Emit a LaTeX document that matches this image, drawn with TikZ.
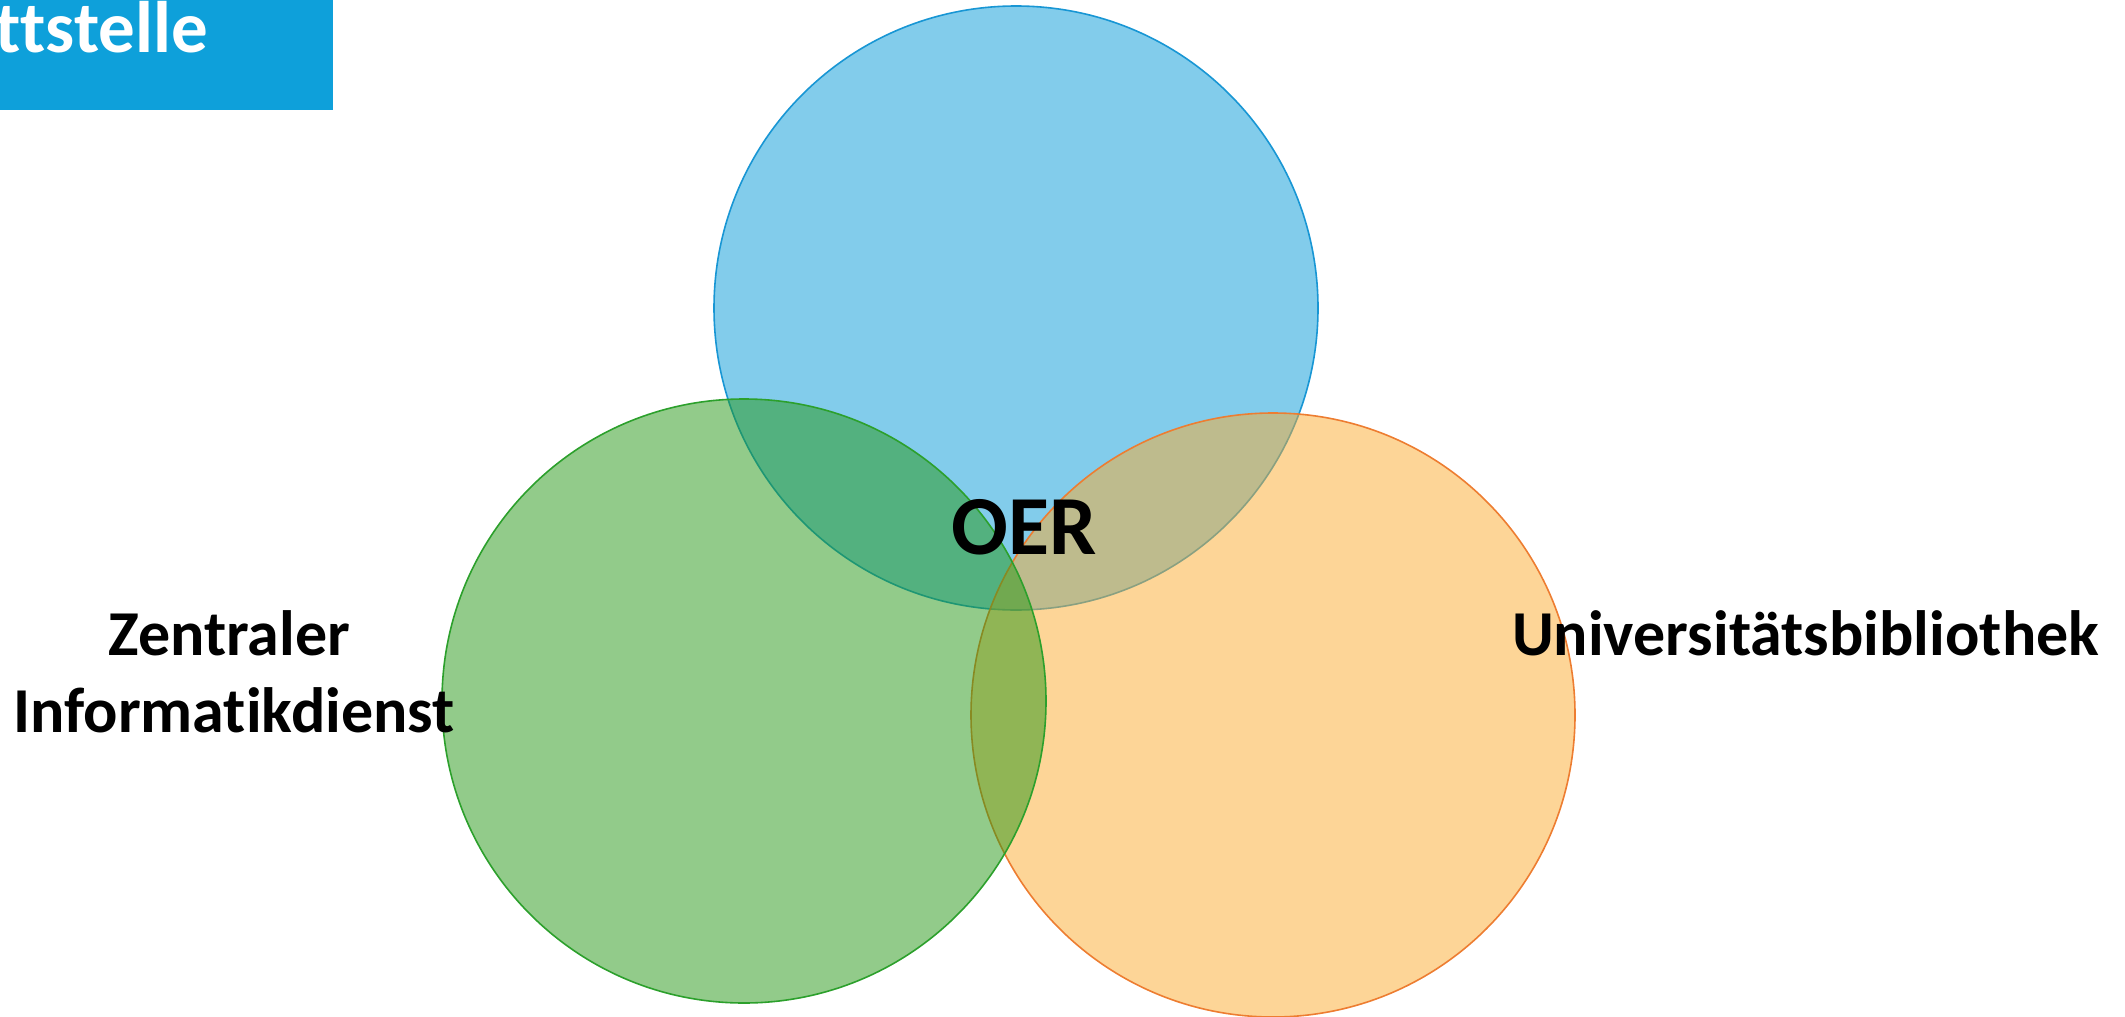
\documentclass[tikz,border=0pt]{standalone}
\usepackage{fontspec}
\setmainfont[Ligatures=NoCommon]{Carlito}
\definecolor{hdrblue}{RGB}{14,160,218}
\definecolor{bluebase}{RGB}{5,153,215}
\definecolor{bluestroke}{RGB}{24,150,212}
\definecolor{greenbase}{RGB}{37,151,21}
\definecolor{greenstroke}{RGB}{44,160,44}
\definecolor{orangebase}{RGB}{251,171,47}
\definecolor{orangestroke}{RGB}{237,125,49}
\tikzset{
  venn/.style={circle, minimum size=604pt, inner sep=0pt, line width=1.6pt, fill opacity=0.5, draw opacity=1},
  label/.style={font=\bfseries\fontsize{64}{70}\selectfont, text=black, inner sep=0pt},
}
\begin{document}
\begin{tikzpicture}[x=1pt,y=-1pt]
\useasboundingbox (0,0) rectangle (2125,1017);
\begin{scope}
\clip (0,0) rectangle (2125,1017);
\fill[hdrblue] (0,0) rectangle (333,110);
\node[font=\bfseries\fontsize{73}{78}\selectfont, text=white, anchor=base east, inner sep=0pt] (hdr) at (208,52) {ttstelle};
\node[venn, draw=bluestroke, fill=bluebase] (blue) at (1016,308) {};
\node[venn, draw=orangestroke, fill=orangebase] (orange) at (1273,715) {};
\node[venn, draw=greenstroke, fill=greenbase] (green) at (744,701) {};
\end{scope}
\node[font=\bfseries\fontsize{84}{90}\selectfont, anchor=base, inner sep=0pt] (oer) at (1024,554) {OER};
\node[label, anchor=base] (zid1) at (229.5,655) {Zentraler};
\node[label, anchor=base] (zid2) at (234,732) {Informatikdienst};
\node[label, anchor=base] (ub) at (1805.5,655) {Universitätsbibliothek};
\end{tikzpicture}
\end{document}
